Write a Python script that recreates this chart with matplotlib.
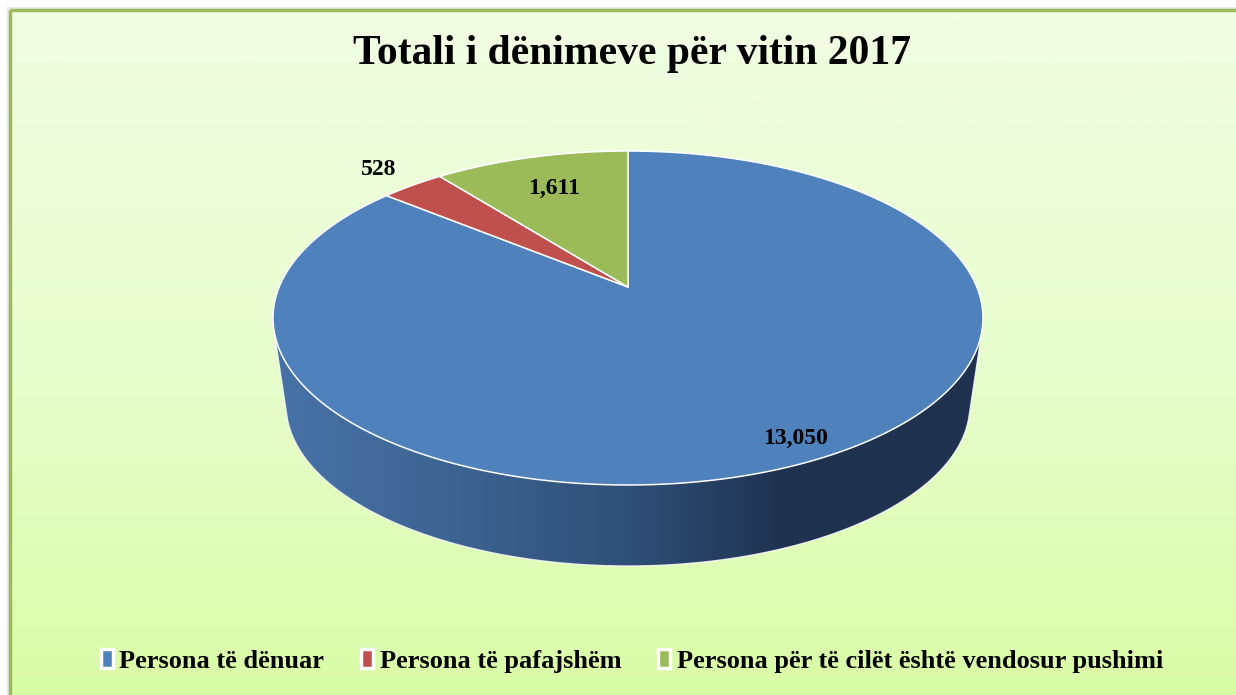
import numpy as np
import matplotlib
matplotlib.use("Agg")
import matplotlib.pyplot as plt
from matplotlib.patches import Polygon, Rectangle, Patch
from matplotlib.colors import LinearSegmentedColormap

# ---------------- data ----------------
title = "Totali i dënimeve për vitin 2017"
categories = ["Persona të dënuar", "Persona të pafajshëm",
              "Persona për të cilët është vendosur pushimi"]
values = [13050, 528, 1611]
colors = ["#4f81bd", "#c0504d", "#9bbb59"]

# ---------------- layout (pixels) ----------------
W, H = 1236, 695
CX, CY = 628, 287          # projected centre of the pie top
RX = 355                   # half width of top ellipse
UP, DOWN = 136, 198        # far / near extent from centre (perspective)
K = (DOWN - UP) / (DOWN + UP)
B = UP * (1 + K)
A = RX * np.sqrt(1 - K**2)
S = 0.963                  # bottom face scale (perspective)
FRONT_TOP, FRONT_BOT = CY + DOWN, 566
VY = (FRONT_BOT - S * FRONT_TOP) / (1 - S)
label_r = [0.9, 1.18, 0.73]
label_dth = [-0.03, 0.0, 0.0]   # small angular nudge (rad)
FONT = "Liberation Serif"


def proj(u, v, bottom=False):
    w = 1 + K * v
    x = CX + A * u / w
    y = CY - B * v / w
    if bottom:
        x = CX + S * (x - CX)
        y = VY + S * (y - VY)
    return x, y


def hull(pts):
    pts = sorted(map(tuple, pts))
    def cross(o, a, b):
        return (a[0]-o[0])*(b[1]-o[1]) - (a[1]-o[1])*(b[0]-o[0])
    lower, upper = [], []
    for p in pts:
        while len(lower) >= 2 and cross(lower[-2], lower[-1], p) <= 0:
            lower.pop()
        lower.append(p)
    for p in reversed(pts):
        while len(upper) >= 2 and cross(upper[-2], upper[-1], p) <= 0:
            upper.pop()
        upper.append(p)
    return np.array(lower[:-1] + upper[:-1])


fig = plt.figure(figsize=(W/100, H/100), dpi=100)
fig.patch.set_facecolor("white")
ax = fig.add_axes([0, 0, 1, 1])
ax.set_xlim(0, W)
ax.set_ylim(H, 0)
ax.axis("off")

# ---- chart area background ----
ax.add_patch(Rectangle((7, 7), W, H, facecolor="#d0d0d0", edgecolor="none", alpha=0.5, zorder=0))
bg = LinearSegmentedColormap.from_list("bg", ["#f1fde3", "#e8fdce", "#d9fca6"])
grad = np.linspace(0, 1, 256).reshape(-1, 1)
ax.imshow(grad, cmap=bg, extent=(10, W + 5, H + 5, 10), aspect="auto", zorder=1)
ax.add_patch(Rectangle((10, 10), W, H, facecolor="none", edgecolor="#9bbb59", lw=2.5, zorder=2))

# ---- side of the cylinder ----
t = np.linspace(0, 2 * np.pi, 400)
top_pts = np.column_stack(proj(np.sin(t), np.cos(t)))
bot_pts = np.column_stack(proj(np.sin(t), np.cos(t), bottom=True))
hp = hull(np.vstack([top_pts, bot_pts]))
side = Polygon(hp, closed=True, facecolor="none", edgecolor="white", lw=1.0, alpha=0.8, zorder=4)
ax.add_patch(side)
side_cmap = LinearSegmentedColormap.from_list(
    "side", [(0, "#4873a8"), (0.25, "#3d6492"), (0.5, "#2f4f77"),
             (0.72, "#1f3250"), (1, "#1f3250")])
sg = np.linspace(0, 1, 512).reshape(1, -1)
im = ax.imshow(sg, cmap=side_cmap, extent=(CX - RX - 5, CX + RX + 5, FRONT_BOT + 5, 280),
               aspect="auto", zorder=3)
im.set_clip_path(side)

# ---- top face slices (clockwise from 12 o'clock) ----
total = sum(values)
start = 0.0
mids = []
for val, col in zip(values, colors):
    span = 2 * np.pi * val / total
    th = np.linspace(start, start + span, max(3, int(400 * val / total)))
    xs, ys = proj(np.sin(th), np.cos(th))
    cx0, cy0 = proj(0, 0)
    poly = np.column_stack([np.r_[cx0, xs], np.r_[cy0, ys]])
    ax.add_patch(Polygon(poly, closed=True, facecolor=col, edgecolor="white",
                         lw=1.1, joinstyle="round", zorder=5))
    mids.append(start + span / 2)
    start += span

# ---- data labels ----
for val, m, r, d in zip(values, mids, label_r, label_dth):
    lx, ly = proj(r * np.sin(m + d), r * np.cos(m + d))
    ax.text(lx, ly, f"{val:,}", ha="center", va="center", fontsize=17,
            fontweight="bold", family=FONT, color="black", zorder=6)

# ---- title ----
ax.text(CX + 4, 54, title, ha="center", va="center", fontsize=30, fontweight="bold",
        family=FONT, color="black", zorder=6)

# ---- legend ----
handles = [Patch(facecolor=c, edgecolor="white", lw=2.5) for c in colors]
leg = ax.legend(handles, categories, loc="center", bbox_to_anchor=(632 / W, 1 - 661 / H),
                ncol=3, frameon=False, handlelength=0.45, handleheight=0.7,
                handletextpad=0.25, columnspacing=1.4,
                prop={"family": FONT, "weight": "bold", "size": 19})

fig.savefig("out.png", dpi=100, facecolor=fig.get_facecolor())
